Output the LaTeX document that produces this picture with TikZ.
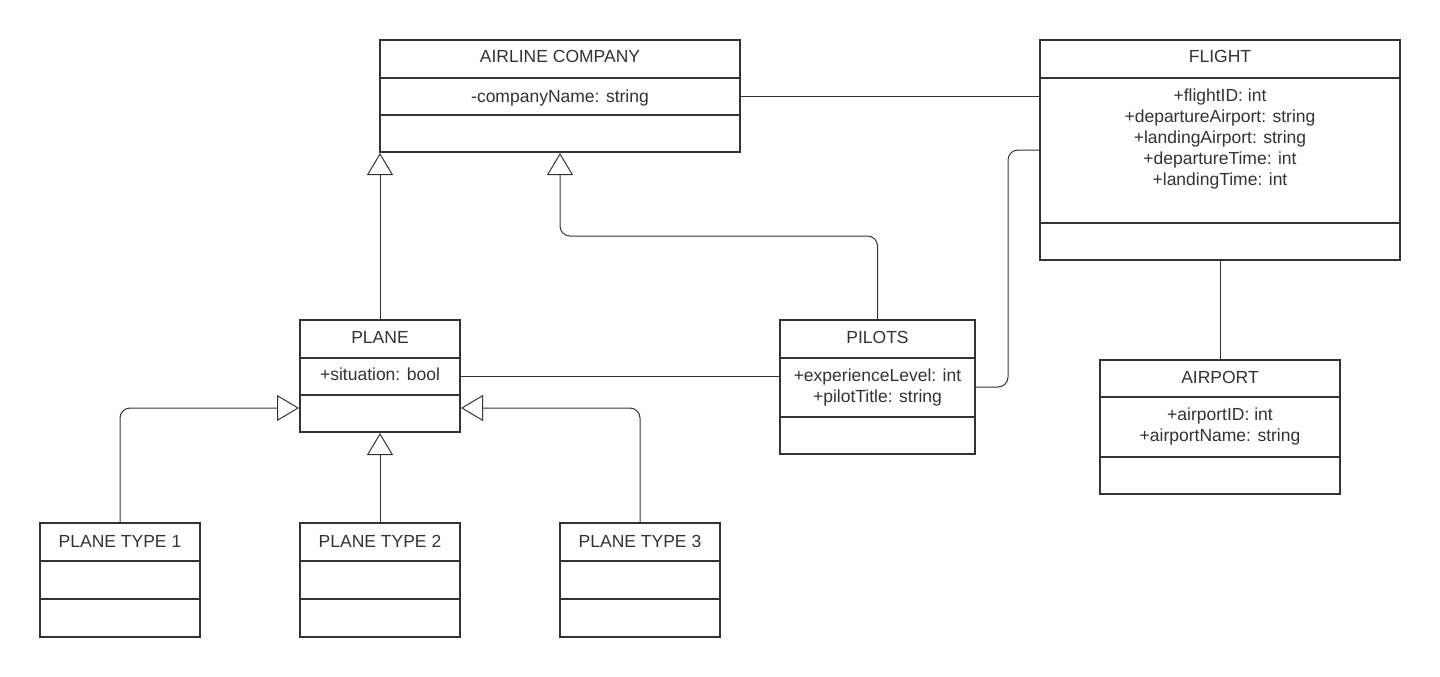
\documentclass[tikz,border=0pt]{standalone}
\usepackage{fontspec}
\setmainfont{Liberation Sans}
\usetikzlibrary{arrows.meta,calc}
\definecolor{ink}{HTML}{333333}
\begin{document}
\begin{tikzpicture}[x=1pt,y=-1pt,
  box/.style={draw=ink, line width=2pt, rectangle, inner sep=0pt, fill=white},
  div/.style={draw=ink, line width=2pt},
  txt/.style={anchor=base, inner sep=0pt, text=ink, font=\fontsize{17.5}{21}\selectfont},
  conn/.style={draw=ink, line width=1pt},
  gen/.style={conn, rounded corners=10pt, -{Triangle[open, length=22pt, width=26pt, fill=white]}}]
\useasboundingbox (0,0) rectangle (1440,677);

% class boxes
\node[box, minimum width=360pt, minimum height=112pt] (airline) at (560,96) {};
\node[box, minimum width=360pt, minimum height=220pt] (flight) at (1220,150) {};
\node[box, minimum width=160pt, minimum height=112pt] (plane) at (380,376) {};
\node[box, minimum width=195pt, minimum height=134pt] (pilots) at (877.5,387) {};
\node[box, minimum width=240pt, minimum height=134pt] (airport) at (1220,427) {};
\node[box, minimum width=160pt, minimum height=114pt] (pt1) at (120,580) {};
\node[box, minimum width=160pt, minimum height=114pt] (pt2) at (380,580) {};
\node[box, minimum width=160pt, minimum height=114pt] (pt3) at (640,580) {};

% compartment dividers
\foreach \n/\a/\b in {airline/78/115, flight/78/223, plane/358/395, pilots/358/417, airport/397/457, pt1/561/599, pt2/561/599, pt3/561/599}{
  \draw[div] (\n.west |- 0,\a) -- (\n.east |- 0,\a);
  \draw[div] (\n.west |- 0,\b) -- (\n.east |- 0,\b);
}

% texts
\node[txt] (tairline) at (560,63) {AIRLINE COMPANY};
\node[txt] (aairline) at (560,102) {-companyName: string};

\node[txt] (tflight) at (1220,63) {FLIGHT};
\node[txt] (f1) at (1220,101) {+flightID: int};
\node[txt] (f2) at (1220,122) {+departureAirport: string};
\node[txt] (f3) at (1220,143) {+landingAirport: string};
\node[txt] (f4) at (1220,164) {+departureTime: int};
\node[txt] (f5) at (1220,185) {+landingTime: int};

\node[txt] (tplane) at (380,343) {PLANE};
\node[txt] (aplane) at (380,380) {+situation: bool};

\node[txt] (tpilots) at (877.5,343) {PILOTS};
\node[txt] (p1) at (877.5,381) {+experienceLevel: int};
\node[txt] (p2) at (877.5,402) {+pilotTitle: string};

\node[txt] (tairport) at (1220,383) {AIRPORT};
\node[txt] (ap1) at (1220,420) {+airportID: int};
\node[txt] (ap2) at (1220,441) {+airportName: string};

\node[txt] (tpt1) at (120,547) {PLANE TYPE 1};
\node[txt] (tpt2) at (380,547) {PLANE TYPE 2};
\node[txt] (tpt3) at (640,547) {PLANE TYPE 3};

% associations
\draw[conn] (airline.east) -- (airline.east -| flight.west);
\draw[conn] (plane.east) -- (plane.east -| pilots.west);
\draw[conn] (flight.south) -- (airport.north);
\draw[conn, rounded corners=10pt] (pilots.east) -- ++(32,0) |- (flight.west);

% generalizations
\draw[gen] (plane.north) -- (plane.north |- airline.south);
\draw[gen] (pilots.north) -- ++(0,-83) -| ([xshift=181pt]airline.south west);
\draw[gen] (pt1.north) |- ([yshift=25pt]plane.south west);
\draw[gen] (pt3.north) |- ([yshift=25pt]plane.south east);
\draw[gen] (pt2.north) -- (plane.south);
\end{tikzpicture}
\end{document}
